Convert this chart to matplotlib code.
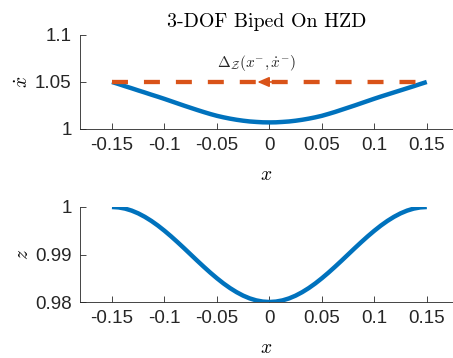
"""HZD phase portrait for the 3-DOF biped."""
import matplotlib
matplotlib.use('Agg')
import matplotlib.pyplot as plt

# values
x_pts = [-0.15, -0.14375, -0.1375, -0.13125, -0.125, -0.11875, -0.1125, -0.10625,
         -0.1, -0.09375, -0.0875, -0.08125, -0.075, -0.06875, -0.0625, -0.05625,
         -0.05, -0.04375, -0.0375, -0.03125, -0.025, -0.01875, -0.0125, -0.00625,
         0.0, 0.00625, 0.0125, 0.01875, 0.025, 0.03125, 0.0375, 0.04375,
         0.05, 0.05625, 0.0625, 0.06875, 0.075, 0.08125, 0.0875, 0.09375,
         0.1, 0.10625, 0.1125, 0.11875, 0.125, 0.13125, 0.1375, 0.14375, 0.15]
xdot_pts = [1.0500, 1.0478, 1.0455, 1.0433, 1.0410, 1.0388, 1.0365, 1.0343,
            1.0320, 1.0296, 1.0272, 1.0248, 1.0225, 1.0202, 1.0180, 1.0159,
            1.0140, 1.0124, 1.0110, 1.0098, 1.0088, 1.0080, 1.0075, 1.0071,
            1.0070, 1.0071, 1.0075, 1.0080, 1.0088, 1.0098, 1.0110, 1.0124,
            1.0140, 1.0160, 1.0181, 1.0204, 1.0227, 1.0250, 1.0274, 1.0298,
            1.0322, 1.0345, 1.0367, 1.0389, 1.0411, 1.0433, 1.0455, 1.0478, 1.0500]
z_pts = [1.0000, 0.99991, 0.99966, 0.99924, 0.99866, 0.99793, 0.99707, 0.99609,
         0.99500, 0.99383, 0.99259, 0.99131, 0.99000, 0.98869, 0.98741, 0.98617,
         0.98500, 0.98391, 0.98293, 0.98207, 0.98134, 0.98076, 0.98034, 0.98009,
         0.98000, 0.98009, 0.98034, 0.98076, 0.98134, 0.98207, 0.98293, 0.98391,
         0.98500, 0.98617, 0.98741, 0.98869, 0.99000, 0.99131, 0.99259, 0.99383,
         0.99500, 0.99609, 0.99707, 0.99793, 0.99866, 0.99924, 0.99966, 0.99991, 1.0000]

# impact map: x^- -> x^+ at constant velocity
impact_x = [-0.15, 0.15]
impact_xdot = [1.05, 1.05]
arrow_tip = (-0.0115, 1.05)
arrow_tail = (0.005, 1.05)

x_ticks = [-0.15, -0.1, -0.05, 0, 0.05, 0.1, 0.15]
x_ticklabels = ['-0.15', '-0.1', '-0.05', '0', '0.05', '0.1', '0.15']
xdot_ticks = [1, 1.05, 1.1]
xdot_ticklabels = ['1', '1.05', '1.1']
z_ticks = [0.98, 0.99, 1.0]
z_ticklabels = ['0.98', '0.99', '1']

blue = '#0072BD'
orange = '#D95319'
dark = '#262626'

plt.rcParams['mathtext.fontset'] = 'cm'
plt.rcParams['lines.scale_dashes'] = False
plt.rcParams['font.family'] = ['Liberation Sans', 'DejaVu Sans']

fig = plt.figure(figsize=(4.53, 3.58), dpi=100)
ax1 = fig.add_axes([0.1766, 0.6397, 0.8234, 0.2626])
ax2 = fig.add_axes([0.1766, 0.1564, 0.8234, 0.2654])


def style_axes(ax):
    for side in ['top', 'right']:
        ax.spines[side].set_visible(False)
    for side in ['left', 'bottom']:
        ax.spines[side].set_color(dark)
        ax.spines[side].set_linewidth(0.6)
    ax.tick_params(direction='in', length=4, width=0.6, color=dark,
                   labelcolor=dark, labelsize=13.5, pad=6)
    ax.set_xlim(-0.1805, 0.175)
    ax.set_xticks(x_ticks)
    ax.set_xticklabels(x_ticklabels)
    ax.set_xlabel('$x$', fontsize=14, labelpad=9)


# top: velocity along the zero dynamics
style_axes(ax1)
ax1.plot(x_pts, xdot_pts, color=blue, lw=3.2, solid_capstyle='butt',
         solid_joinstyle='round')
ax1.plot(impact_x, impact_xdot, color=orange, lw=3.1, dashes=(11.5, 11.5),
         dash_capstyle='butt')
ax1.annotate('', xy=arrow_tip, xytext=arrow_tail,
             arrowprops=dict(arrowstyle='-|>,head_length=0.7,head_width=0.3',
                             color=orange, lw=1.2, shrinkA=0, shrinkB=0))
ax1.text(-0.012, 1.07, r'$\Delta_{\mathcal{Z}}(x^{-},\dot{x}^{-})$',
         fontsize=11, ha='center', va='center', color=dark)
ax1.set_ylim(1, 1.1)
ax1.set_yticks(xdot_ticks)
ax1.set_yticklabels(xdot_ticklabels)
ax1.set_ylabel(r'$\dot{x}$', fontsize=14, labelpad=2)
ax1.set_title('3-DOF Biped On HZD', fontfamily='cmr10', fontsize=14.3, pad=6)

# bottom: height of the center of mass
style_axes(ax2)
ax2.plot(x_pts, z_pts, color=blue, lw=3.2, solid_capstyle='butt',
         solid_joinstyle='round')
ax2.set_ylim(0.98, 1.0)
ax2.set_yticks(z_ticks)
ax2.set_yticklabels(z_ticklabels)
ax2.set_ylabel('$z$', fontsize=14, labelpad=2)

fig.savefig('out.png', dpi=100)
